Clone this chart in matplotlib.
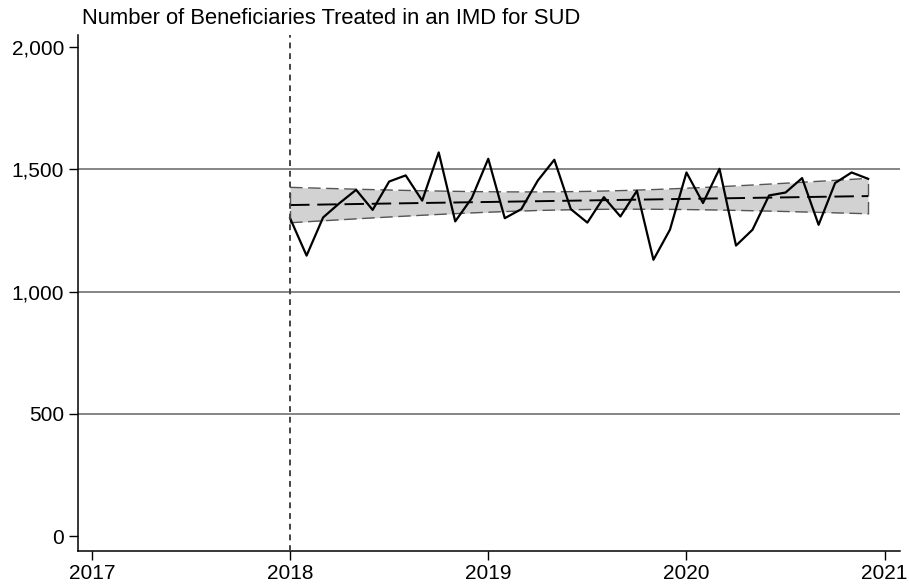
import numpy as np
import matplotlib
matplotlib.use("Agg")
import matplotlib.pyplot as plt

plt.rcParams['font.family'] = ['Liberation Sans', 'DejaVu Sans']

# Monthly counts, Jan 2018 - Dec 2020
months = np.arange(36)
values = [1300, 1147, 1303, 1362, 1416, 1334, 1450, 1475, 1372, 1569, 1287, 1382,
          1543, 1300, 1337, 1454, 1539, 1337, 1282, 1386, 1307, 1412, 1130, 1253,
          1487, 1362, 1502, 1188, 1253, 1393, 1405, 1464, 1273, 1444, 1487, 1461]
start_year = 2018
policy_line = 2018
yticks = [0, 500, 1000, 1500, 2000]
xticks = [2017, 2018, 2019, 2020, 2021]
title = "Number of Beneficiaries Treated in an IMD for SUD"

x = start_year + months / 12.0
y = np.array(values, dtype=float)

# linear fit with 95% CI of the mean prediction
n = len(x)
b, a = np.polyfit(months, y, 1)
fit = a + b * months
resid = y - fit
s = np.sqrt(np.sum(resid ** 2) / (n - 2))
sxx = np.sum((months - months.mean()) ** 2)
se = s * np.sqrt(1.0 / n + (months - months.mean()) ** 2 / sxx)
tval = 2.032
upper = fit + tval * se
lower = fit - tval * se

fig = plt.figure(figsize=(9.09, 5.85), dpi=100)
ax = fig.add_axes([0.0858, 0.0581, 0.904, 0.882])

for g in [500, 1000, 1500]:
    ax.axhline(g, color='#858585', lw=1.4, zorder=0)

ax.fill_between(x, lower, upper, color='#d2d2d2', lw=0, zorder=1)
ax.plot(x, upper, color='#555555', lw=1.0, dashes=(9, 4), zorder=2)
ax.plot(x, lower, color='#555555', lw=1.0, dashes=(9, 4), zorder=2)
ax.plot([x[0], x[0]], [lower[0], upper[0]], color='#555555', lw=1.0, dashes=(9, 4), zorder=2)
ax.plot([x[-1], x[-1]], [lower[-1], upper[-1]], color='#555555', lw=1.0, dashes=(9, 4), zorder=2)
ax.plot(x, fit, color='black', lw=1.4, dashes=(10, 4), zorder=3)
ax.plot(x, y, color='black', lw=1.6, zorder=4)

ax.axvline(policy_line, color='#444444', lw=1.4, dashes=(3, 2.5), zorder=5)

ax.set_xlim(2016.93, 2021.076)
ax.set_ylim(-61, 2049)
ax.set_yticks(yticks)
ax.set_yticklabels([f"{v:,}" for v in yticks])
ax.set_xticks(xticks)
ax.set_xticklabels([str(v) for v in xticks])
ax.tick_params(axis='both', labelsize=15, length=6.5, width=1, color='black', direction='out')
ax.tick_params(axis='y', pad=3.5)
ax.tick_params(axis='x', pad=3)
ax.spines['top'].set_visible(False)
ax.spines['right'].set_visible(False)
ax.spines['left'].set_linewidth(1.1)
ax.spines['bottom'].set_linewidth(1.1)

fig.text(82 / 909, 1 - 18 / 585, title, fontsize=15.8, ha='left', va='center')

fig.savefig("out.png", dpi=100)
